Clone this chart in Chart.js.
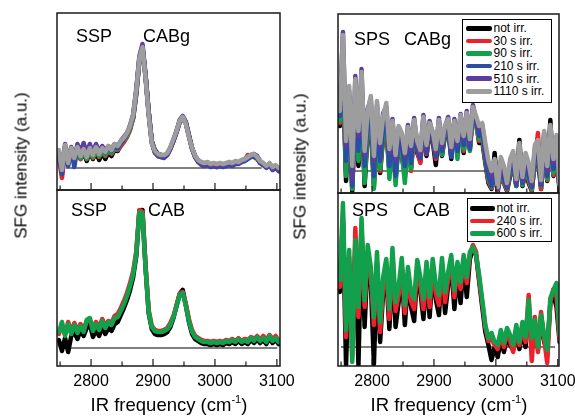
<!DOCTYPE html>
<html>
<head>
<meta charset="utf-8">
<script src="https://cdn.jsdelivr.net/npm/chart.js@4.4.1/dist/chart.umd.min.js"></script>
<style>
html,body{margin:0;padding:0;background:#fff;}
body{width:575px;height:416px;position:relative;overflow:hidden;font-family:"Liberation Sans",Arial,Helvetica,sans-serif;color:#000;}
canvas{position:absolute;display:block;}
.txt{position:absolute;white-space:nowrap;line-height:1;}
.plabel{font-size:18px;}
.ytitle{font-size:17px;width:220px;height:17px;text-align:center;transform:rotate(-90deg);transform-origin:50% 50%;}
.xtitle{font-size:18.5px;width:260px;text-align:center;}
.xtitle .sup{font-size:11px;position:relative;top:-8px;}
.legend{position:absolute;box-sizing:border-box;border:1.5px solid #000;background:#fff;font-size:12px;}
.legend .row{height:12.6px;display:flex;align-items:center;white-space:nowrap;}
.legend .sw{display:inline-block;height:4.5px;border-radius:2px;margin-right:2px;flex:none;}
</style>
</head>
<body>
<canvas id="cTL" width="235" height="189" style="left:51px;top:7px"></canvas>
<canvas id="cBL" width="283" height="216" style="left:27px;top:184px"></canvas>
<canvas id="cTR" width="233" height="191" style="left:332px;top:8px"></canvas>
<canvas id="cBR" width="281" height="213" style="left:308px;top:187px"></canvas>

<div class="txt plabel" style="left:76px;top:27px">SSP</div>
<div class="txt plabel" style="left:143px;top:27px">CABg</div>
<div class="txt plabel" style="left:71px;top:201px">SSP</div>
<div class="txt plabel" style="left:148px;top:201px">CAB</div>
<div class="txt plabel" style="left:354px;top:30px">SPS</div>
<div class="txt plabel" style="left:404px;top:30px">CABg</div>
<div class="txt plabel" style="left:352px;top:201px">SPS</div>
<div class="txt plabel" style="left:413px;top:201px">CAB</div>

<div class="txt ytitle" style="left:-89px;top:156.5px">SFG intensity (a.u.)</div>
<div class="txt ytitle" style="left:190px;top:157.5px">SFG intensity (a.u.)</div>
<div class="txt xtitle" style="left:39px;top:396px">IR frequency (cm<span class="sup">-1</span>)</div>
<div class="txt xtitle" style="left:319px;top:396px">IR frequency (cm<span class="sup">-1</span>)</div>

<div id="legG" class="legend" style="left:462px;top:19px;width:90px;height:84px;padding-top:2px"></div>
<div id="legC" class="legend" style="left:467px;top:198px;width:85px;height:44px;padding-top:3px"></div>

<script>
// ---------- data ----------
const FREQ = [2748,2753,2758,2763,2768,2773,2778,2783,2788,2793,2798,2803,
2808,2813,2818,2823,2828,2833,2838,2843,2848,2853,2858,2863,
2868,2873,2878,2883,2888,2893,2898,2903,2908,2913,2918,2923,
2928,2933,2938,2943,2948,2953,2958,2963,2968,2973,2978,2983,
2988,2993,2998,3003,3008,3013,3018,3023,3028,3033,3038,3043,
3048,3053,3058,3063,3068,3073,3078,3083,3088,3093,3098,3103];

const X_TICK_LABELS = [2800,2900,3000,3100];
const X_MINOR_TICKS = [2750,2850,2950,3050];

const CABG_NAMES = ['not irr.','30 s irr.','90 s irr.','210 s irr.','510 s irr.','1110 s irr.'];
const CAB_NAMES = ['not irr.','240 s irr.','600 s irr.'];
const CABG_COLORS = ['#000000','#f0202a','#13a04c','#2a4ea6','#5c3c9e','#9d9d9d'];
const CAB_COLORS = ['#000000','#f0202a','#13a04c'];

// CABg, SSP
const cabgSSP_0s = [15,3,20,6,17,8,18,9,15,7,16,9,
16,8,15,9,16,12,18,17,23,27,32,40,
50,74,107,120,92,56,27,18,14,13,12,14,
20,27,36,46,50,45,32,20,11,7,5,4,
5,3,4,3,4,3,4,4,4,5,5,7,
8,10,12,13,11,6,4,2,3,0,1,-1];
const cabgSSP_30s = [10,-10,16,4,15,7,17,9,16,9,17,10,
17,11,16,12,17,14,19,18,22,26,31,38,
50,75,108,119,91,55,26,16,12,11,11,13,
19,27,36,46,50,45,32,19,11,6,4,3,
4,2,3,2,3,2,3,4,3,5,5,7,
8,13,12,11,9,5,3,1,2,-1,1,-3];
const cabgSSP_90s = [12,0,18,5,16,8,18,10,17,9,18,11,
18,12,17,13,18,15,20,19,24,28,32,40,
51,76,109,120,91,54,25,16,13,12,12,14,
20,28,37,47,51,46,32,20,12,7,5,4,
5,3,4,3,4,3,4,5,4,6,5,7,
8,10,12,12,10,6,4,2,4,0,2,-2];
const cabgSSP_210s = [14,-6,20,2,18,1,22,13,24,12,22,14,
23,15,21,15,21,17,22,20,25,29,34,41,
52,77,110,122,92,56,26,15,12,11,10,13,
19,28,36,46,51,45,32,19,11,6,3,2,
3,1,2,1,2,1,2,3,2,4,4,6,
7,9,11,12,10,5,3,0,3,-2,0,-3];
const cabgSSP_510s = [16,2,24,7,21,9,24,15,25,14,24,15,
24,16,22,17,22,19,24,22,27,31,35,43,
54,79,112,124,93,56,27,16,13,12,11,14,
20,28,37,48,52,46,33,20,12,7,4,3,
4,2,2,1,3,2,4,4,3,5,5,7,
9,11,13,14,12,7,4,1,4,-1,1,-2];
const cabgSSP_1110s = [18,-2,23,5,20,10,21,12,19,11,20,13,
21,14,20,16,22,18,24,22,27,30,35,42,
53,78,110,121,90,53,25,17,14,13,13,15,
21,29,37,47,51,44,31,20,12,8,6,5,
6,4,5,4,5,4,5,6,5,7,6,8,
9,11,13,14,11,7,5,2,5,1,3,0];

// CAB, SSP
const cabSSP_0s = [8,-3,10,-4,12,16,9,18,12,20,24,11,
18,12,21,14,20,17,24,26,33,40,48,58,
71,92,137,138,80,35,19,14,13,13,14,16,
21,30,42,54,58,43,26,14,9,7,5,4,
4,3,4,3,4,3,5,4,6,4,7,4,
6,4,8,5,9,5,8,4,10,5,8,4];
const cabSSP_240s = [14,22,14,26,16,25,17,24,18,27,29,19,
26,20,29,22,27,25,32,34,40,47,55,65,
77,97,138,136,82,38,22,18,17,17,18,20,
25,32,43,54,56,44,29,18,12,10,8,7,
7,6,7,6,7,6,8,7,9,7,10,7,
9,8,11,9,12,8,12,8,13,9,12,7];
const cabSSP_600s = [16,26,12,24,14,23,15,22,16,28,30,17,
24,18,27,20,26,23,30,31,37,44,52,62,
74,94,136,134,80,36,21,17,16,16,17,19,
23,31,42,53,55,42,27,16,11,9,7,6,
6,5,6,5,6,5,7,6,8,6,9,6,
8,6,10,7,11,7,10,6,12,7,10,6];

// CABg, SPS
const cabgSPS_0s = [45,95,-10,60,-20,65,5,70,-15,40,45,-15,
45,-2,35,42,0,48,-8,28,15,-3,26,4,
40,18,10,45,15,38,30,6,42,15,36,42,
12,42,20,46,18,48,22,62,50,28,30,8,
-12,-18,18,-20,-3,-12,-20,-5,10,-15,31,-15,
0,-12,-20,10,12,-18,25,-10,51,-5,15,-20];
const cabgSPS_30s = [48,100,-2,65,-12,70,12,75,-5,42,50,-10,
48,0,38,45,3,33,-6,30,18,-6,28,0,
42,20,8,46,17,40,32,12,44,18,38,44,
15,44,22,48,20,50,24,56,46,30,33,10,
-10,-17,-8,-19,0,-12,-19,-2,6,-13,15,-13,
3,-10,-19,10,38,-18,28,-9,30,-4,20,-18];
const cabgSPS_90s = [50,110,-5,70,-18,75,10,80,-12,45,55,-18,
50,2,40,50,-8,36,-14,32,20,-12,30,2,
44,24,15,48,20,42,35,16,45,16,40,45,
16,45,12,50,22,52,20,58,48,32,35,12,
-8,-16,-5,-18,2,-10,-18,0,8,-15,18,-14,
5,-8,-18,12,18,-15,30,-8,33,-2,22,-18];
const cabgSPS_210s = [55,120,10,75,-15,80,20,88,5,50,60,-5,
55,10,45,55,5,40,-5,35,25,5,35,8,
46,22,13,50,18,44,33,14,47,20,42,47,
14,46,20,52,26,54,22,60,50,35,40,15,
-5,-15,0,-18,5,-8,-17,3,10,-14,20,-12,
8,-5,-16,15,22,-14,35,-5,38,2,25,-18];
const cabgSPS_510s = [64,139,25,80,-8,95,35,102,15,62,72,10,
66,24,58,64,18,52,10,43,36,14,46,22,
53,27,18,56,23,50,37,19,53,25,44,54,
21,52,27,57,32,60,29,66,52,42,46,24,
6,-6,8,-17,10,0,-15,8,17,-12,24,-10,
15,4,-14,22,28,-12,38,0,43,8,33,-16];
const cabgSPS_1110s = [60,136,30,85,5,92,40,99,20,60,75,15,
70,28,55,68,22,50,16,45,38,18,44,25,
51,30,21,54,26,48,40,22,51,28,46,52,
24,50,30,56,35,58,32,64,55,45,48,28,
10,0,12,-16,14,5,-12,12,20,-8,28,-6,
18,8,-10,26,31,-9,40,5,46,12,36,-14];

// CAB, SPS
const cabSPS_0s = [55,125,-18,85,10,100,-18,115,20,90,65,-17,
80,5,55,72,18,85,20,45,76,22,68,40,
26,74,56,28,72,30,76,48,32,78,34,62,
82,38,76,44,84,50,88,98,92,66,40,15,
2,-13,0,-10,8,-5,10,2,-3,14,-2,16,
0,40,3,22,-2,30,5,-3,44,52,40,5];
const cabSPS_240s = [60,130,10,90,-10,119,30,120,40,95,72,22,
85,15,62,78,28,90,36,52,80,34,72,46,
38,78,62,38,76,40,80,54,42,82,45,68,
86,50,80,58,88,64,92,102,95,68,45,20,
6,8,2,-2,12,0,15,6,-5,18,2,20,
5,52,-14,30,-5,35,8,-16,45,58,50,8];
const cabSPS_600s = [67,144,17,97,-15,107,40,129,47,102,80,30,
95,25,70,88,38,99,45,60,89,42,80,55,
48,87,70,48,85,50,88,62,52,89,55,75,
92,57,85,65,92,70,95,100,92,72,47,22,
9,14,5,2,17,4,19,12,2,22,5,25,
10,47,9,27,0,32,12,-3,49,57,64,12];

// extent of the zero (reference) line in each panel
const ZERO_TL = [2760,3075];
const ZERO_BL = [2753,3100];
const ZERO_TR = [2760,3090];
const ZERO_BR = [2750,3095];

// ---------- drawing ----------
Chart.defaults.font.family = '"Liberation Sans", Arial, sans-serif';
Chart.defaults.color = '#000';

const framePlugin = {
  id: 'frame',
  afterDatasetsDraw(chart) {
    const ctx = chart.ctx, a = chart.chartArea, x = chart.scales.x;
    ctx.save();
    ctx.strokeStyle = '#1a1a1a';
    ctx.lineWidth = 1.2;
    ctx.beginPath();
    X_TICK_LABELS.forEach(v => { const p = x.getPixelForValue(v); ctx.moveTo(p, a.bottom); ctx.lineTo(p, a.bottom - 7); });
    X_MINOR_TICKS.forEach(v => { const p = x.getPixelForValue(v); ctx.moveTo(p, a.bottom); ctx.lineTo(p, a.bottom - 4.5); });
    ctx.stroke();
    ctx.lineWidth = 1.5;
    ctx.strokeRect(a.left, a.top, a.right - a.left, a.bottom - a.top);
    ctx.restore();
  }
};

function makePanel(id, series, colors, zero, xMax, yMin, yMax, pad, showX) {
  const datasets = series.map((vals, i) => ({
    data: FREQ.map((f, j) => ({x: f, y: vals[j]})),
    borderColor: colors[i],
    borderWidth: 4.5,
    order: series.length - i
  }));
  datasets.push({
    data: [{x: zero[0], y: 0}, {x: zero[1], y: 0}],
    borderColor: '#000',
    borderWidth: 1,
    order: 100
  });
  const xScale = {
    type: 'linear', min: 2745, max: xMax, display: showX, position: 'bottom',
    grid: {display: false, drawTicks: false},
    border: {display: false},
    ticks: {font: {size: 16}, color: '#000', padding: 6, maxRotation: 0, autoSkip: false,
            callback: v => String(v)},
    afterBuildTicks: s => { s.ticks = X_TICK_LABELS.map(v => ({value: v})); }
  };
  if (showX) xScale.afterFit = s => { s.height = 34; };
  new Chart(document.getElementById(id), {
    type: 'line',
    data: {datasets},
    plugins: [framePlugin],
    options: {
      responsive: false,
      animation: false,
      devicePixelRatio: 1,
      events: [],
      layout: {padding: pad},
      elements: {
        line: {tension: 0, borderJoinStyle: 'round', borderCapStyle: 'round', fill: false},
        point: {radius: 0, hoverRadius: 0}
      },
      plugins: {legend: {display: false}, tooltip: {enabled: false}},
      scales: {
        x: xScale,
        y: {type: 'linear', min: yMin, max: yMax, display: false}
      }
    }
  });
}

makePanel('cTL',
  [cabgSSP_0s, cabgSSP_30s, cabgSSP_90s, cabgSSP_210s, cabgSSP_510s, cabgSSP_1110s],
  CABG_COLORS, ZERO_TL, 3105, -22, 155, {left: 6, right: 6, top: 6, bottom: 6}, false);
makePanel('cBL',
  [cabSSP_0s, cabSSP_240s, cabSSP_600s],
  CAB_COLORS, ZERO_BL, 3105, -18, 158, {left: 30, right: 30, top: 6, bottom: 0}, true);
makePanel('cTR',
  [cabgSPS_0s, cabgSPS_30s, cabgSPS_90s, cabgSPS_210s, cabgSPS_510s, cabgSPS_1110s],
  CABG_COLORS, ZERO_TR, 3102, -22, 157, {left: 6, right: 6, top: 6, bottom: 6}, false);
makePanel('cBR',
  [cabSPS_0s, cabSPS_240s, cabSPS_600s],
  CAB_COLORS, ZERO_BR, 3102, -19, 154, {left: 30, right: 30, top: 6, bottom: 0}, true);

// legends
function buildLegend(id, names, colors, lineLeft, lineW) {
  const box = document.getElementById(id);
  names.forEach((n, i) => {
    const row = document.createElement('div');
    row.className = 'row';
    const sw = document.createElement('span');
    sw.className = 'sw';
    sw.style.background = colors[i];
    sw.style.width = lineW + 'px';
    sw.style.marginLeft = lineLeft + 'px';
    row.appendChild(sw);
    row.appendChild(document.createTextNode(n));
    box.appendChild(row);
  });
}
buildLegend('legG', CABG_NAMES, CABG_COLORS, 2.5, 26);
buildLegend('legC', CAB_NAMES, CAB_COLORS, 1.5, 25);
</script>
</body>
</html>
